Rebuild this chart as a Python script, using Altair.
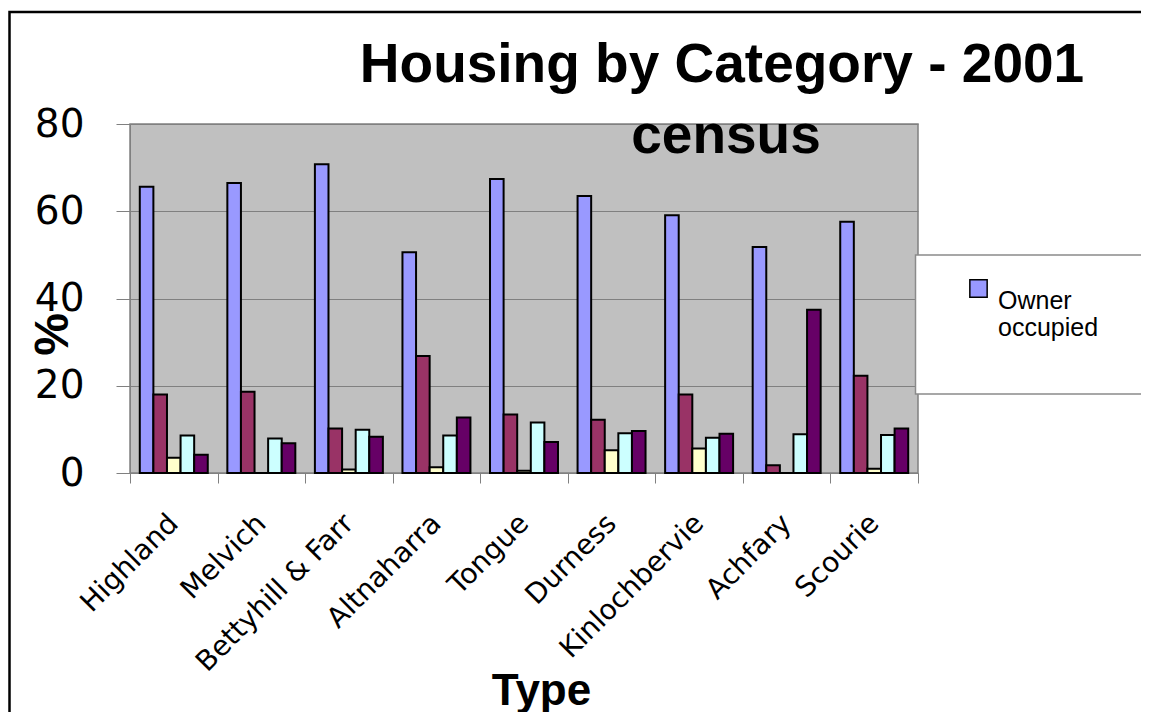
import altair as alt
import pandas as pd

places = ["Highland", "Melvich", "Bettyhill & Farr", "Altnaharra", "Tongue",
          "Durness", "Kinlochbervie", "Achfary", "Scourie"]
series = ["Owner occupied", "Rented from Council", "Housing association",
          "Private rented", "Other"]
owner_occupied = [65.6, 66.5, 70.8, 50.6, 67.4, 63.5, 59.1, 51.8, 57.6]
council = [18.0, 18.6, 10.2, 26.8, 13.4, 12.2, 18.0, 1.8, 22.3]
housing_assoc = [3.5, 0.0, 0.8, 1.3, 0.5, 5.2, 5.6, 0.0, 1.0]
private_rented = [8.6, 7.9, 9.9, 8.6, 11.6, 9.1, 8.1, 8.9, 8.7]
other = [4.2, 6.8, 8.3, 12.7, 7.1, 9.6, 9.0, 37.4, 10.2]
colors = ["#9999FF", "#993366", "#FFFFCC", "#CCFFFF", "#660066"]
y_ticks = [0, 20, 40, 60, 80]
title_lines = ["Housing by Category - 2001", "census"]

values = [owner_occupied, council, housing_assoc, private_rented, other]
rows = []
for s, vals in zip(series, values):
    for p, v in zip(places, vals):
        rows.append({"place": p, "series": s, "value": v})
df = pd.DataFrame(rows)

bars = alt.Chart(df).mark_bar(stroke="black", strokeWidth=2).encode(
    x=alt.X("place:N", sort=places,
            scale=alt.Scale(paddingInner=0, paddingOuter=0),
            axis=alt.Axis(title="Type", labelAngle=-45, labelAlign="right",
                          labelBaseline="middle", labelFont="DejaVu Sans",
                          labelFontSize=28, labelColor="black", labelLimit=500,
                          labelPadding=36, tickBand="extent", tickSize=10,
                          tickColor="#808080", domainColor="#808080",
                          titleFont="Liberation Sans", titleFontSize=44,
                          titleFontWeight="bold", titleColor="black",
                          titleX=411, titleY=231, titleAlign="center",
                          titleBaseline="alphabetic", titleAngle=0)),
    xOffset=alt.XOffset("series:N", sort=series,
                        scale=alt.Scale(paddingInner=0, paddingOuter=0.72)),
    y=alt.Y("value:Q", scale=alt.Scale(domain=[0, 80], nice=False),
            axis=alt.Axis(values=y_ticks, title="%", labelFont="DejaVu Sans",
                          labelFontSize=39, labelColor="black", labelPadding=32,
                          tickSize=14, tickColor="#808080", domainColor="#808080",
                          gridColor="#808080", grid=True,
                          titleFont="Liberation Sans", titleFontSize=48,
                          titleFontWeight="bold", titleColor="black",
                          titleX=-77, titleY=210, titleAngle=270,
                          titleAlign="center", titleBaseline="middle")),
    color=alt.Color("series:N", sort=series,
                    scale=alt.Scale(domain=series, range=colors),
                    legend=alt.Legend(values=["Owner occupied"], title=None,
                                      orient="none", legendX=836, legendY=152,
                                      symbolType="square", symbolSize=300,
                                      symbolStrokeColor="black",
                                      symbolStrokeWidth=1.5,
                                      labelFont="Liberation Sans",
                                      labelFontSize=25, labelColor="black",
                                      labelBaseline="top", labelOffset=7,
                                      labelLimit=400, padding=0,
                                      labelExpr="split(datum.label, ' ')")),
)

one = pd.DataFrame({"k": [0]})

outer_border = alt.Chart(one).mark_rect(fillOpacity=0, stroke="black",
                                        strokeWidth=2.5).encode(
    x=alt.value(-120.5), x2=alt.value(1300), y=alt.value(-112), y2=alt.value(900))

legend_box = alt.Chart(one).mark_rect(fill="white", stroke="#8a8a8a",
                                      strokeWidth=1.5).encode(
    x=alt.value(785.5), x2=alt.value(1300), y=alt.value(131), y2=alt.value(270))

title1 = alt.Chart(one).mark_text(text=title_lines[0], font="Liberation Sans",
                                  fontSize=55, fontWeight="bold", color="black",
                                  align="center", baseline="alphabetic").encode(
    x=alt.value(592), y=alt.value(-42))
title2 = alt.Chart(one).mark_text(text=title_lines[1], font="Liberation Sans",
                                  fontSize=55, fontWeight="bold", color="black",
                                  align="center", baseline="alphabetic").encode(
    x=alt.value(596), y=alt.value(29))

chart = alt.layer(bars, outer_border, legend_box, title1, title2).properties(
    width=788, height=349,
    autosize=alt.AutoSizeParams(type="none"),
    padding={"left": 122, "top": 116, "right": 223, "bottom": 239},
    background="white",
).configure_view(fill="#C0C0C0", stroke="#808080", strokeWidth=1.5)

chart.save("out.html", embed_options={"renderer": "svg", "actions": False})
